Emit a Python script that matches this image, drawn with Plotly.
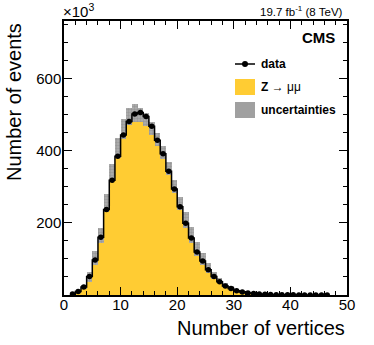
import plotly.graph_objects as go

# bin centres (number of vertices) and counts in units of 10^3
bin_centres = [1.5, 2.5, 3.5, 4.5, 5.5, 6.5, 7.5, 8.5, 9.5, 10.5, 11.5, 12.5, 13.5, 14.5,
               15.5, 16.5, 17.5, 18.5, 19.5, 20.5, 21.5, 22.5, 23.5, 24.5, 25.5, 26.5,
               27.5, 28.5, 29.5, 30.5, 31.5, 32.5, 33.5, 34.5, 35.5, 36.5, 37.5, 38.5,
               39.5, 40.5, 41.5, 42.5, 43.5, 44.5, 45.5, 46.5]
data_k = [3, 10, 22, 51, 97, 160, 237, 318, 385, 444, 481, 502, 506, 495,
          468, 429, 392, 343, 294, 245, 199, 158, 119, 94, 70, 51,
          37, 25, 18, 12, 8, 5.5, 4, 2.8, 2, 1.4, 1, 0.7,
          0.5, 0.35, 0.25, 0.18, 0.12, 0.08, 0.06, 0.04]
mc_k = [3, 10, 22, 51, 103, 165, 255, 341, 408, 461, 495, 506, 500, 486,
        462, 432, 395, 350, 302, 255, 208, 167, 128, 100, 75, 55,
        40, 28, 20, 13, 9, 6, 4, 2.8, 2, 1.4, 1, 0.7,
        0.5, 0.35, 0.25, 0.18, 0.12, 0.08, 0.06, 0.04]
mc_err_k = [1, 2, 6, 14, 20, 20, 25, 23, 28, 27, 23, 25, 19, 18,
            18, 18, 18, 18, 18, 18, 23, 23, 20, 16, 13, 10,
            8, 6, 4, 3, 2, 1.5, 1, 0.8, 0.6, 0.4, 0.3, 0.2,
            0.15, 0.1, 0.08, 0.05, 0.04, 0.03, 0.02, 0.01]

x_ticks = [0, 10, 20, 30, 40, 50]
y_ticks = [200, 400, 600]

YELLOW = "#FFCC33"
FONT = "Liberation Sans, Arial, sans-serif"

W, H = 374, 345
L, R, T, B = 64, 27, 21, 50


def px(x):
    return (x - L) / (W - L - R)


def py(y):
    return (H - B - y) / (H - T - B)


fig = go.Figure()
fig.add_trace(go.Bar(
    x=bin_centres, y=mc_k, width=1,
    marker=dict(color=YELLOW, line=dict(width=0)),
    showlegend=False, hoverinfo="skip",
))
fig.add_trace(go.Bar(
    x=bin_centres,
    y=[2 * e for e in mc_err_k],
    base=[m - e for m, e in zip(mc_k, mc_err_k)],
    width=1,
    marker=dict(
        color="#999999",
        line=dict(width=0),
        pattern=dict(shape=".", fgcolor="#808080", bgcolor="#b0b0b0", size=3, solidity=0.5),
    ),
    showlegend=False, hoverinfo="skip",
))
fig.add_trace(go.Scatter(
    x=bin_centres, y=data_k, mode="lines+markers",
    line=dict(color="black", width=1.5, shape="hvh"),
    marker=dict(color="black", size=5.5),
    showlegend=False,
))

# hand-drawn legend (ROOT style)
shapes = [
    dict(type="line", xref="paper", yref="paper", x0=px(235), x1=px(255), y0=py(64), y1=py(64),
         line=dict(color="black", width=1.5)),
    dict(type="circle", xref="paper", yref="paper", x0=px(242), x1=px(248), y0=py(61), y1=py(67),
         fillcolor="black", line=dict(width=0)),
    dict(type="rect", xref="paper", yref="paper", x0=px(235), x1=px(255), y0=py(79), y1=py(95),
         fillcolor=YELLOW, line=dict(width=0)),
    dict(type="rect", xref="paper", yref="paper", x0=px(235), x1=px(255), y0=py(102), y1=py(118),
         fillcolor="#a0a0a0", line=dict(width=0)),
]

ann = [
    dict(text="<b>data</b>", x=px(259), y=py(64)),
    dict(text="<b>Z</b> \u2192 \u03bc\u03bc", x=px(259), y=py(87)),
    dict(text="<b>uncertainties</b>", x=px(259), y=py(110)),
]
annotations = [dict(a, xref="paper", yref="paper", xanchor="left", yanchor="middle",
                    showarrow=False, font=dict(family=FONT, size=12, color="black")) for a in ann]
annotations += [
    dict(text="<b>CMS</b>", x=px(337), y=py(38), xref="paper", yref="paper",
         xanchor="right", yanchor="middle", showarrow=False,
         font=dict(family=FONT, size=15, color="black")),
    dict(text="19.7 fb<sup>-1</sup> (8 TeV)", x=px(345), y=py(11), xref="paper", yref="paper",
         xanchor="right", yanchor="middle", showarrow=False,
         font=dict(family=FONT, size=11.5, color="black")),
    dict(text="\u00d710<sup>3</sup>", x=px(61), y=py(11), xref="paper", yref="paper",
         xanchor="left", yanchor="middle", showarrow=False,
         font=dict(family=FONT, size=15, color="black")),
    dict(text="Number of vertices", x=1, y=py(328), xref="paper", yref="paper",
         xanchor="right", yanchor="middle", showarrow=False,
         font=dict(family=FONT, size=20, color="black")),
    dict(text="Number of events", x=px(14), y=1, xref="paper", yref="paper",
         xanchor="center", yanchor="top", textangle=-90, showarrow=False,
         font=dict(family=FONT, size=20, color="black")),
]

axis_common = dict(
    showline=True, linecolor="black", linewidth=1.5, mirror="ticks",
    ticks="inside", ticklen=8, tickwidth=1, tickcolor="black",
    showgrid=False, zeroline=False, automargin=False,
    tickfont=dict(family=FONT, size=15, color="black"),
)

fig.update_layout(
    width=W, height=H,
    margin=dict(l=L, r=R, t=T, b=B, pad=0),
    paper_bgcolor="white", plot_bgcolor="white",
    barmode="overlay", bargap=0,
    shapes=shapes, annotations=annotations,
    xaxis=dict(axis_common, range=[0, 50], tickmode="array", tickvals=x_ticks,
               ticklabelstandoff=-5,
               minor=dict(tickmode="linear", tick0=0, dtick=2, ticks="inside", ticklen=4,
                          tickcolor="black")),
    yaxis=dict(axis_common, range=[0, 760], tickmode="array", tickvals=y_ticks,
               ticklabelstandoff=-2,
               minor=dict(tickmode="linear", tick0=0, dtick=50, ticks="inside", ticklen=4,
                          tickcolor="black")),
)

fig.write_html("out.html", config={"displayModeBar": False},
               post_script="document.body.style.margin='0';")
